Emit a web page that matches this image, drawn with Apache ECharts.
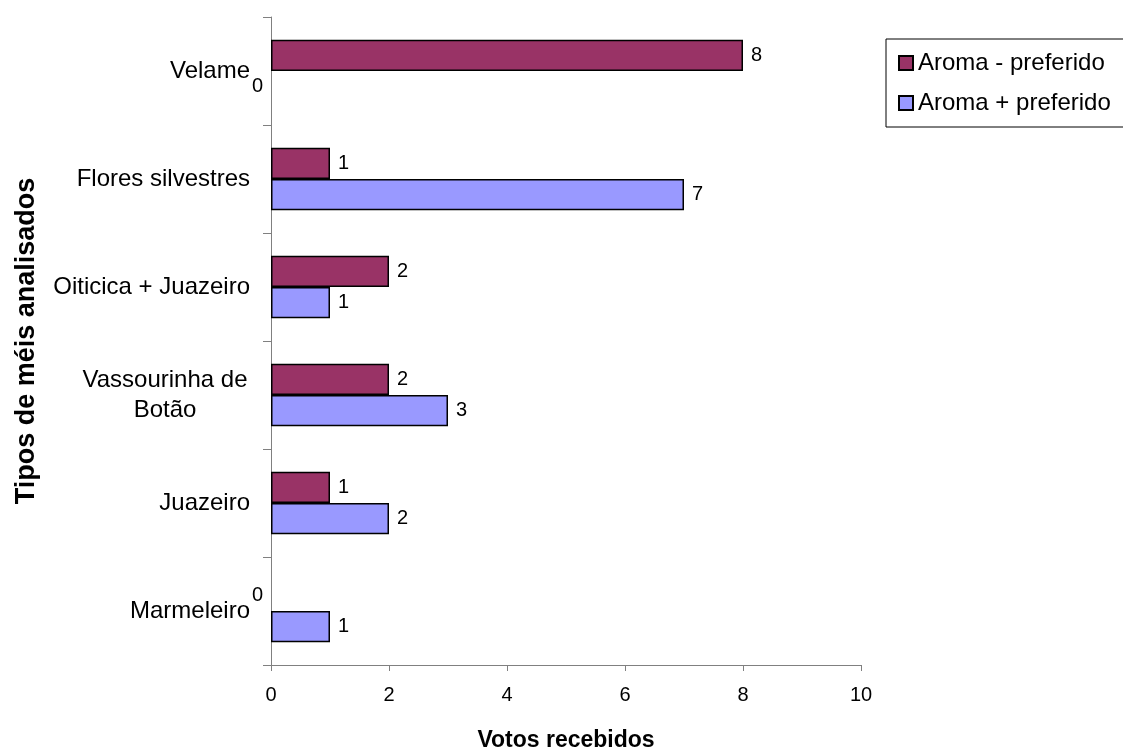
<!DOCTYPE html>
<html>
<head>
<meta charset="utf-8">
<style>
    html, body{ margin: 0; padding: 0; background: #fff;}
    #chart1{ width: 1123px; height: 751px;}
</style>
<script src="https://cdn.jsdelivr.net/npm/echarts@6/dist/echarts.min.js"></script>
</head>
<body>
<div id="chart1"></div>
<script>
    // categories listed top to bottom (axis is inverted)
    var categories = ['Velame', 'Flores silvestres', 'Oiticica + Juazeiro', 'Vassourinha de\nBotão', 'Juazeiro', 'Marmeleiro'];
    var menosPreferido = [8, 1, 2, 2, 1, 0];
    var maisPreferido = [0, 7, 1, 3, 2, 1];
    var seriesNames = ['Aroma - preferido', 'Aroma + preferido'];
    var xTicks = [0, 10, 2];   // min, max, interval

    var font = 'Liberation Sans, Arial, sans-serif';

    // Excel puts the "0" labels left of the axis and draws no bar for them
    function toData(arr){
        return arr.map(function(v){
            if (v === 0) return { value: v, itemStyle: { borderWidth: 0 }, label: { offset: [-27, 0] } };
            return v;
        });
    }

    function barSeries(name, values, color){
        return {
            name: name,
            type: 'bar',
            data: toData(values),
            barGap: '0%',
            barCategoryGap: '42%',
            itemStyle: { color: color, borderColor: '#000', borderWidth: 1.5 },
            label: { show: true, position: 'right', distance: 8, color: '#000', fontSize: 20, fontFamily: font },
            emphasis: { disabled: true }
        };
    }

    var chart = echarts.init(document.getElementById('chart1'));
    chart.setOption({
        animation: false,
        grid: { left: 271, right: 262, top: 17, bottom: 86, outerBoundsMode: 'none', containLabel: false },
        legend: {
            orient: 'vertical',
            left: 886, top: 39,
            padding: [12, 30, 12, 12],
            itemWidth: 14, itemHeight: 14, itemGap: 16,
            borderColor: '#000', borderWidth: 1,
            icon: 'rect',
            data: seriesNames,
            textStyle: { fontSize: 24, color: '#000', fontFamily: font }
        },
        xAxis: {
            type: 'value',
            min: xTicks[0], max: xTicks[1], interval: xTicks[2],
            name: 'Votos recebidos',
            nameLocation: 'middle',
            nameGap: 64,
            nameTextStyle: { fontSize: 23, fontWeight: 'bold', color: '#000', fontFamily: font },
            splitLine: { show: false },
            axisLine: { show: true, lineStyle: { color: '#808080', width: 1 } },
            axisTick: { show: true, length: 6, lineStyle: { color: '#808080' } },
            axisLabel: { color: '#000', fontSize: 20, margin: 20, fontFamily: font }
        },
        yAxis: {
            type: 'category',
            inverse: true,
            data: categories,
            name: 'Tipos de méis analisados',
            nameLocation: 'middle',
            nameRotate: 90,
            nameGap: 231,
            nameTextStyle: { fontSize: 27, fontWeight: 'bold', color: '#000', fontFamily: font },
            axisLine: { show: true, lineStyle: { color: '#808080', width: 1 } },
            axisTick: { show: true, length: 8, lineStyle: { color: '#808080' } },
            axisLabel: {
                color: '#000', fontSize: 24, margin: 21, fontFamily: font,
                // two-line labels are centred line by line, like Excel
                formatter: function(v){
                    if (v.indexOf('\n') < 0) return v;
                    return v.split('\n').map(function(s){ return '{c|' + s + '}'; }).join('\n');
                },
                rich: { c: { width: 170, align: 'center', fontSize: 24, lineHeight: 30, color: '#000', fontFamily: font } }
            },
            splitLine: { show: false }
        },
        series: [
            barSeries(seriesNames[0], menosPreferido, '#993366'),
            barSeries(seriesNames[1], maisPreferido, '#9999FF')
        ]
    });
</script>
</body>
</html>
